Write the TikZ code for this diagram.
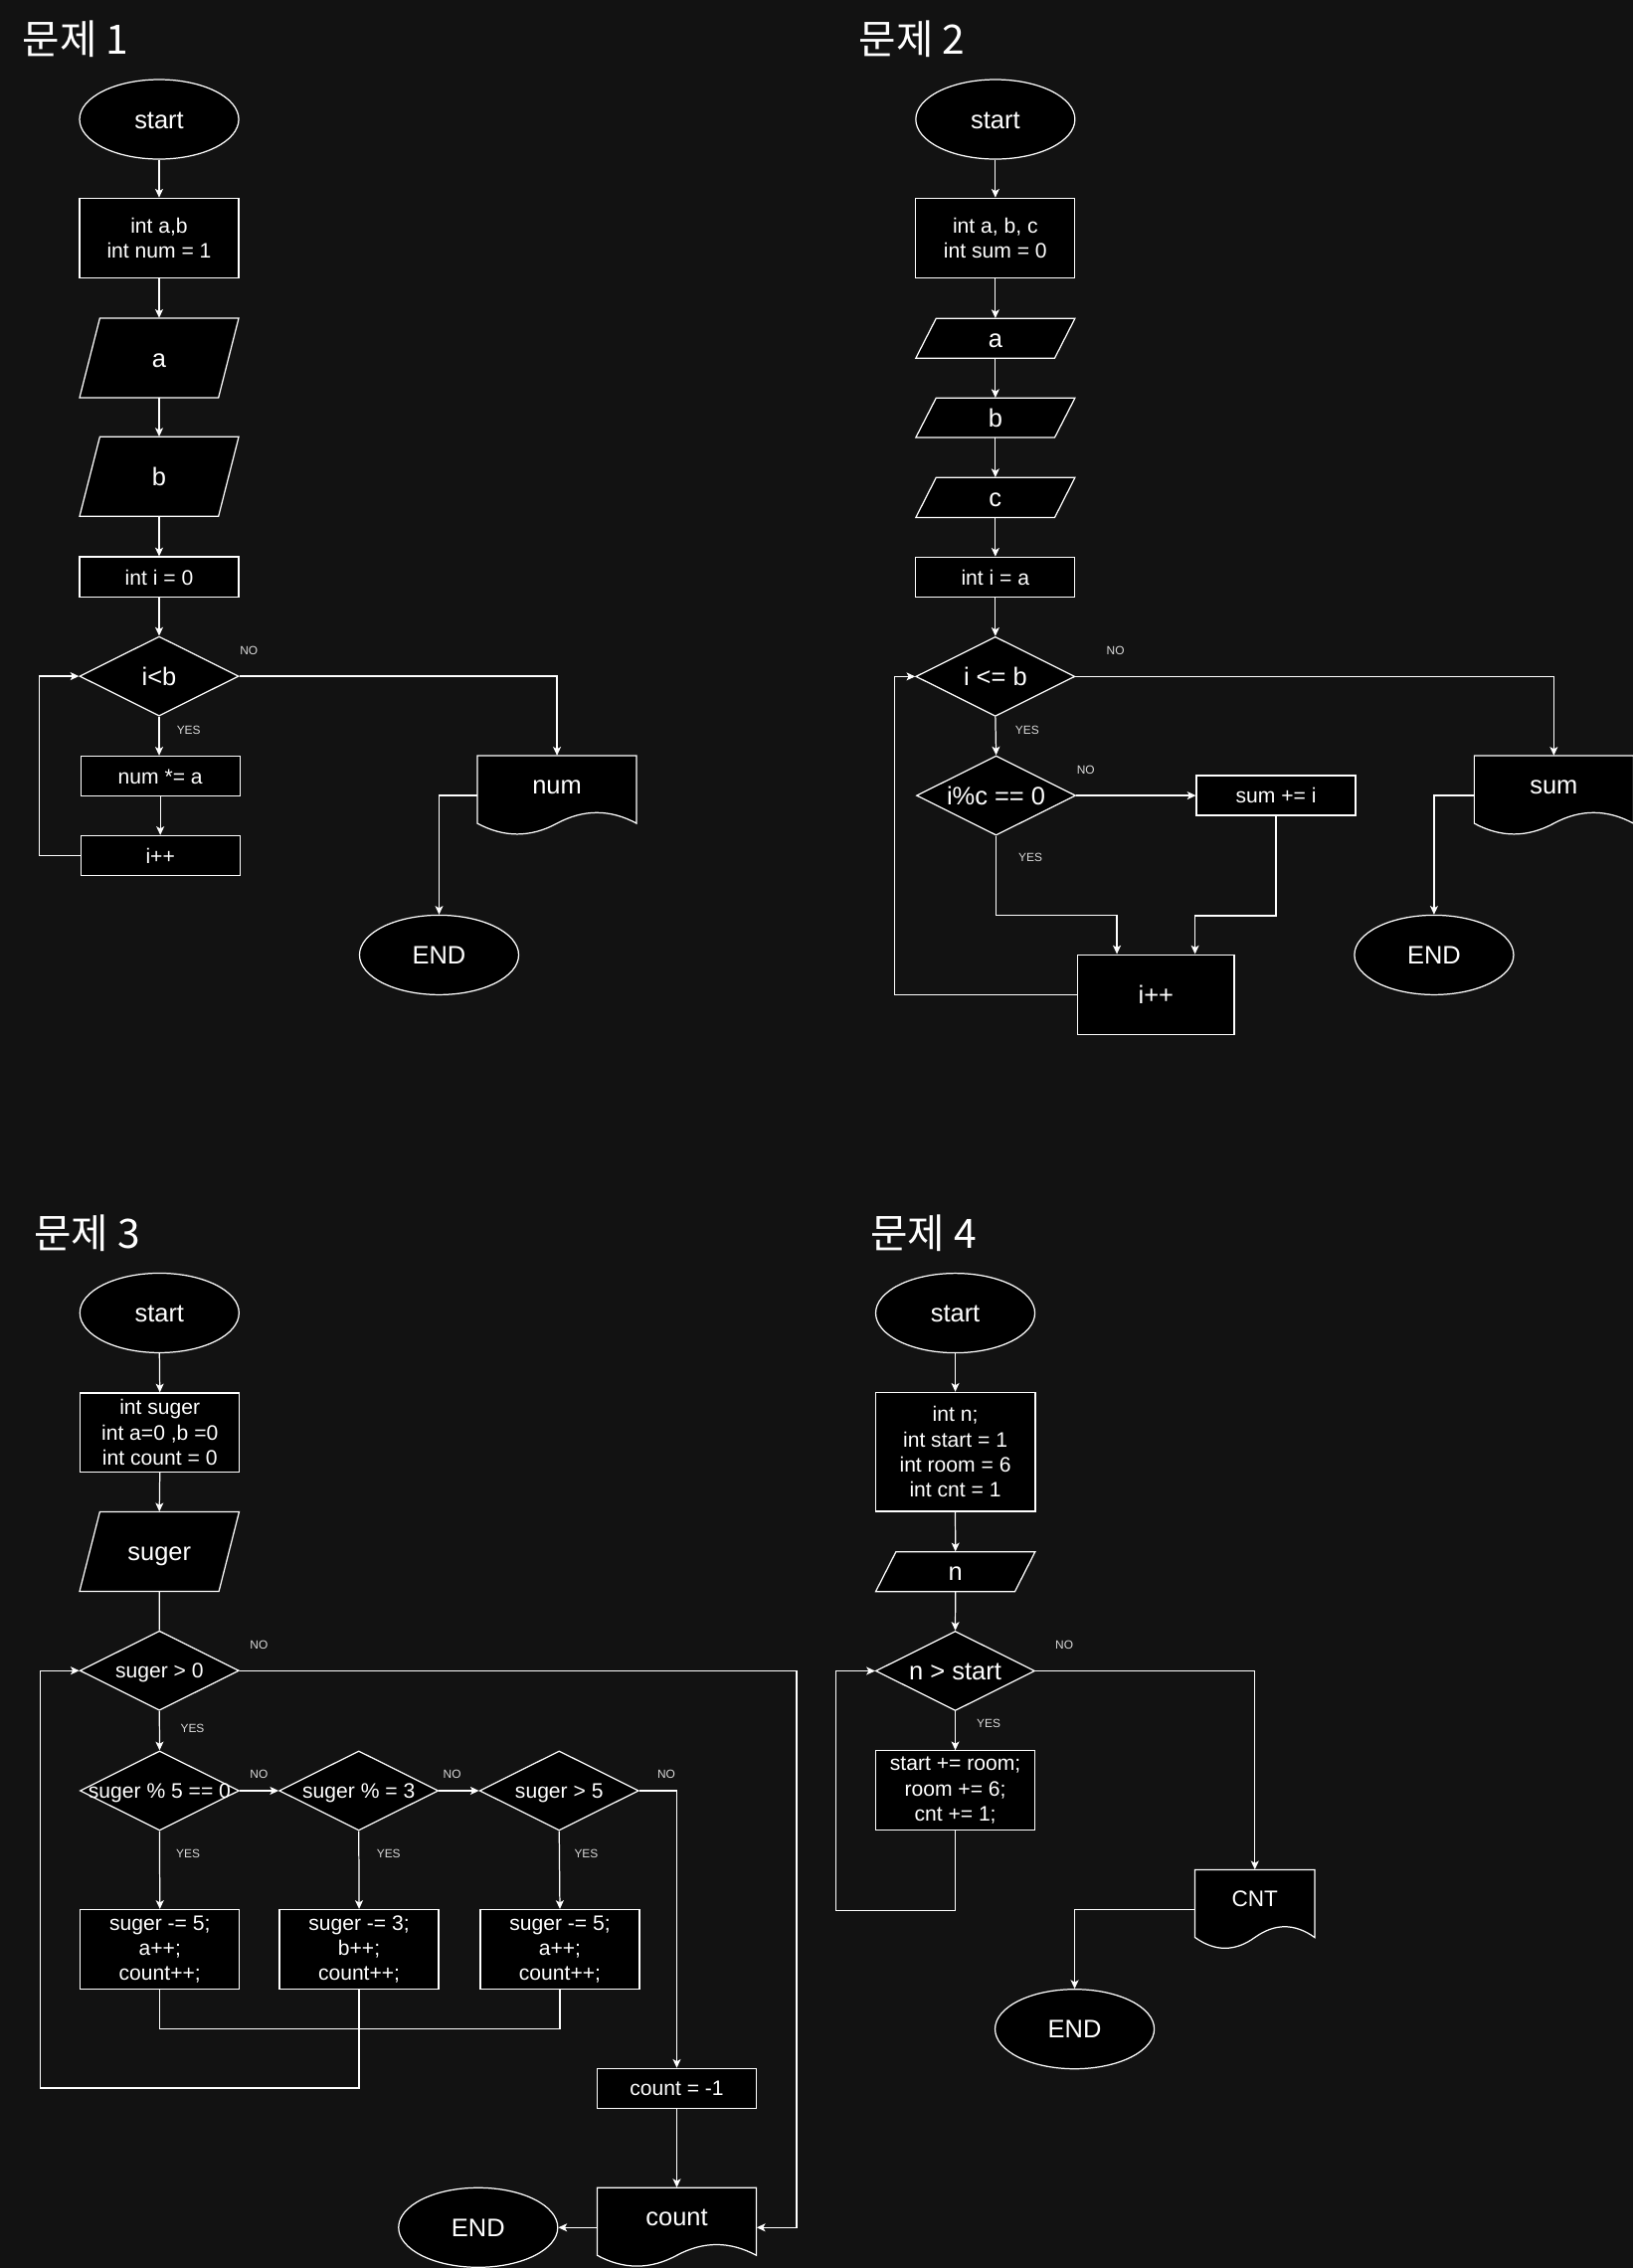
\documentclass[tikz,border=0pt]{standalone}
\usepackage{fontspec}
\setmainfont{Liberation Sans}
\newfontfamily\krfont{Noto Sans CJK KR}
\usetikzlibrary{shapes.geometric,arrows.meta}
\definecolor{bgc}{HTML}{121212}
\definecolor{lbl}{HTML}{DADADA}
\newcommand\zw[1]{\makebox[0pt]{#1}}
\newcommand\parashape[4]{\path[shp] ({#1+14},#2) -- (#3,#2) -- ({#3-14},#4) -- (#1,#4) -- cycle;}
\newcommand\docshape[3]{%
  \path[shp] (#1,#2) -- ({#1+#3},#2) -- ({#1+#3},{#2+46.75})
   .. controls ({#1+5*#3/6},{#2+36.85}) and ({#1+2*#3/3},{#2+36.85}) .. ({#1+#3/2},{#2+46.75})
   .. controls ({#1+#3/3},{#2+56.65}) and ({#1+#3/6},{#2+56.65}) .. (#1,{#2+46.75}) -- cycle;}
\tikzset{
  shp/.style={draw=white, fill=black, line width=0.85pt},
  box/.style={shp, rectangle, inner sep=0pt, minimum width=110pt},
  ell/.style={shp, ellipse, inner sep=0pt, minimum width=110pt, minimum height=55pt},
  dia/.style={shp, diamond, inner sep=0pt, minimum width=110pt, minimum height=55pt},
  paran/.style={rectangle, inner sep=0pt, minimum width=110pt},
  big/.style={text=white, font=\fontsize{17.5}{21}\selectfont, text height=12.5pt, text depth=0pt},
  small/.style={text=white, font=\fontsize{14.5}{17.4}\selectfont, text height=10.4pt, text depth=0pt},
  multi/.style={text=white, font=\fontsize{14.5}{17.4}\selectfont, align=center},
  docn/.style={rectangle, inner sep=0pt, minimum height=55pt, text=white, font=\fontsize{17.5}{21}\selectfont, text height=12.5pt, text depth=15pt},
  lab/.style={text=lbl, font=\fontsize{8.2}{10}\selectfont, inner sep=0pt},
  ttl/.style={text=white, font=\krfont\fontsize{28}{32}\selectfont, inner sep=0pt, anchor=west},
  arr/.style={draw=white, line width=0.85pt, -{Stealth[length=6pt,width=5.5pt,inset=1.5pt]}},
  ln/.style={draw=white, line width=0.85pt},
}
\begin{document}
\begin{tikzpicture}[x=1pt,y=-1pt]
\useasboundingbox (0,0) rectangle (1128.75,1568);
\fill[bgc] (0,0) rectangle (1128.75,1568);

% ---------------- titles
\node[ttl] (t1) at (15.5,27) {문제 1};
\node[ttl] (t2) at (593.5,27) {문제 2};
\node[ttl] (t3) at (23.5,852.5) {문제 3};
\node[ttl] (t4) at (601.5,852.5) {문제 4};

% ---------------- panel 1
\node[ell, big] (p1s) at (110,82.5) {start};
\node[box, multi, minimum height=55pt] (p1v) at (110,164.5) {int a,b\\int num = 1};
\parashape{55}{220}{165}{275}
\node[paran, big, minimum height=55pt] (p1a) at (110,247.5) {a};
\parashape{55}{302}{165}{357}
\node[paran, big, minimum height=55pt] (p1b) at (110,329.5) {b};
\node[box, small, minimum height=28pt] (p1i) at (110,399) {int i = 0};
\node[dia, big] (p1d) at (110,467.5) {\zw{i<b}};
\node[box, small, minimum height=27.5pt] (p1m) at (110.8,536.5) {num *= a};
\node[box, small, minimum height=27.5pt] (p1inc) at (110.8,591.5) {i++};
\docshape{330}{522.5}{110}
\node[docn, minimum width=110pt] (p1doc) at (385,550) {num};
\node[ell, big] (p1e) at (303.5,660.2) {END};
\node[lab] (l1no) at (172,450) {NO};
\node[lab] (l1yes) at (130.4,505) {YES};

\draw[arr] (p1s.south) -- (p1v.north);
\draw[arr] (p1v.south) -- (p1a.north);
\draw[arr] (p1a.south) -- (p1b.north);
\draw[arr] (p1b.south) -- (p1i.north);
\draw[arr] (p1i.south) -- (p1d.north);
\draw[arr] (p1d.south) -- (p1d.south |- p1m.north);
\draw[arr] (p1m.south) -- (p1inc.north);
\draw[arr] (p1inc.west) -- ++(-28.2,0) |- (p1d.west);
\draw[arr] (p1d.east) -| (p1doc.north);
\draw[arr] (p1doc.west) -| (p1e.north);

% ---------------- panel 2
\node[ell, big] (p2s) at (688,82.5) {start};
\node[box, multi, minimum height=55pt] (p2v) at (688,164.5) {int a, b, c\\int sum = 0};
\parashape{633}{220.2}{743}{247.6}
\node[paran, big, minimum height=27.4pt] (p2a) at (688,233.9) {a};
\parashape{633}{275.2}{743}{302.5}
\node[paran, big, minimum height=27.3pt] (p2b) at (688,288.85) {b};
\parashape{633}{330.2}{743}{357.8}
\node[paran, big, minimum height=27.6pt] (p2c) at (688,344) {c};
\node[box, small, minimum height=27.8pt] (p2i) at (688,399.1) {int i = a};
\node[dia, big] (p2d) at (688,467.7) {\zw{i <= b}};
\node[dia, big] (p2d2) at (688.5,550) {\zw{i\%c == 0}};
\node[box, small, minimum height=27.5pt] (p2sum) at (882,550) {sum += i};
\node[box, big, minimum width=108pt, minimum height=55pt] (p2inc) at (799,687.5) {i++};
\docshape{1019}{522.5}{110}
\node[docn, minimum width=110pt] (p2doc) at (1074,550) {sum};
\node[ell, big] (p2e) at (991.2,660.2) {END};
\node[lab] (l2no) at (771,450) {NO};
\node[lab] (l2yes) at (710,505) {YES};
\node[lab] (l2no2) at (750.5,532.4) {NO};
\node[lab] (l2yes2) at (712.2,593) {YES};

\draw[arr] (p2s.south) -- (p2v.north);
\draw[arr] (p2v.south) -- (p2a.north);
\draw[arr] (p2a.south) -- (p2b.north);
\draw[arr] (p2b.south) -- (p2c.north);
\draw[arr] (p2c.south) -- (p2i.north);
\draw[arr] (p2i.south) -- (p2d.north);
\draw[arr] (p2d.south) -- (p2d2.north);
\draw[arr] (p2d2.east) -- (p2sum.west);
\draw[arr] (p2d2.south) -- ++(0,55) -| ([xshift=-27pt]p2inc.north);
\draw[arr] (p2sum.south) -- ++(0,69) -| ([xshift=27pt]p2inc.north);
\draw[arr] (p2inc.west) -- ++(-126,0) |- (p2d.west);
\draw[arr] (p2d.east) -| (p2doc.north);
\draw[arr] (p2doc.west) -| (p2e.north);

% ---------------- panel 3
\node[ell, big] (p3s) at (110.2,907.7) {start};
\node[box, multi, minimum height=54.5pt] (p3v) at (110.5,990.3) {int suger\\int a=0 ,b =0\\int count = 0};
\parashape{55}{1045.2}{165.3}{1100.2}
\node[paran, big, minimum height=55pt, minimum width=110.3pt] (p3in) at (110.15,1072.7) {suger};
\node[dia, small] (p3d0) at (110.2,1155) {\zw{suger > 0}};
\node[dia, small] (p3d1) at (110.3,1238) {\zw{suger \% 5 == 0}};
\node[dia, small] (p3d2) at (248,1238) {\zw{suger \% = 3}};
\node[dia, small] (p3d3) at (386.5,1238) {\zw{suger > 5}};
\node[box, multi, minimum height=55pt] (p3r1) at (110.5,1347.7) {suger -= 5;\\a++;\\count++;};
\node[box, multi, minimum height=55pt] (p3r2) at (248.2,1347.7) {suger -= 3;\\b++;\\count++;};
\node[box, multi, minimum height=55pt] (p3r3) at (387,1347.7) {suger -= 5;\\a++;\\count++;};
\node[box, small, minimum height=27.5pt] (p3cm) at (467.8,1443.8) {count = -1};
\docshape{412.8}{1512.5}{110}
\node[docn, minimum width=110pt] (p3doc) at (467.8,1540) {count};
\node[ell, big] (p3e) at (330.5,1540) {END};
\node[lab] (l3no0) at (179,1137.5) {NO};
\node[lab] (l3yes0) at (133,1195) {YES};
\node[lab] (l3no1) at (179,1226.5) {NO};
\node[lab] (l3no2) at (312.5,1226.5) {NO};
\node[lab] (l3no3) at (460.6,1226.5) {NO};
\node[lab] (l3yes1) at (130,1281.5) {YES};
\node[lab] (l3yes2) at (268.6,1281.5) {YES};
\node[lab] (l3yes3) at (405.2,1281.5) {YES};

\draw[arr] (p3s.south) -- (p3v.north);
\draw[arr] (p3v.south) -- (p3in.north);
\draw[ln] (p3in.south) -- (p3d0.north);
\draw[arr] (p3d0.south) -- (p3d1.north);
\draw[arr] (p3d1.east) -- (p3d2.west);
\draw[arr] (p3d2.east) -- (p3d3.west);
\draw[arr] (p3d3.east) -| (p3cm.north);
\draw[arr] (p3d1.south) -- (p3r1.north);
\draw[arr] (p3d2.south) -- (p3r2.north);
\draw[arr] (p3d3.south) -- (p3r3.north);
\draw[ln] (p3r1.south) -- ++(0,27) -| (p3r3.south);
\draw[arr] (p3r2.south) -- ++(0,68) -- ++(-220.5,0) |- (p3d0.west);
\draw[arr] (p3cm.south) -- (p3doc.north);
\draw[arr] (p3d0.east) -- ++(385,0) |- (p3doc.east);
\draw[arr] (p3doc.west) -- (p3e.east);

% ---------------- panel 4
\node[ell, big] (p4s) at (660.3,907.8) {start};
\node[box, multi, minimum width=110.5pt, minimum height=82.2pt] (p4v) at (660.3,1003.7) {int n;\\int start = 1\\int room = 6\\int cnt = 1};
\parashape{605.3}{1072.8}{715.5}{1100.3}
\node[paran, big, minimum width=110.2pt, minimum height=27.5pt] (p4n) at (660.4,1086.55) {n};
\node[dia, big] (p4d) at (660.3,1155.2) {\zw{n > start}};
\node[box, multi, minimum height=55pt] (p4r) at (660.3,1237.9) {start += room;\\room += 6;\\cnt += 1;};
\docshape{826}{1292.7}{82.7}
\node[docn, minimum width=82.7pt, font=\fontsize{15.5}{18.6}\selectfont, text height=11.1pt] (p4doc) at (867.35,1320.2) {CNT};
\node[ell, big] (p4e) at (742.8,1402.8) {END};
\node[lab] (l4no) at (735.6,1137.2) {NO};
\node[lab] (l4yes) at (683.4,1191.5) {YES};

\draw[arr] (p4s.south) -- (p4v.north);
\draw[arr] (p4v.south) -- (p4n.north);
\draw[arr] (p4n.south) -- (p4d.north);
\draw[arr] (p4d.south) -- (p4r.north);
\draw[arr] (p4r.south) -- ++(0,55) -- ++(-82.5,0) |- (p4d.west);
\draw[arr] (p4d.east) -| (p4doc.north);
\draw[arr] (p4doc.west) -| (p4e.north);
\end{tikzpicture}
\end{document}
